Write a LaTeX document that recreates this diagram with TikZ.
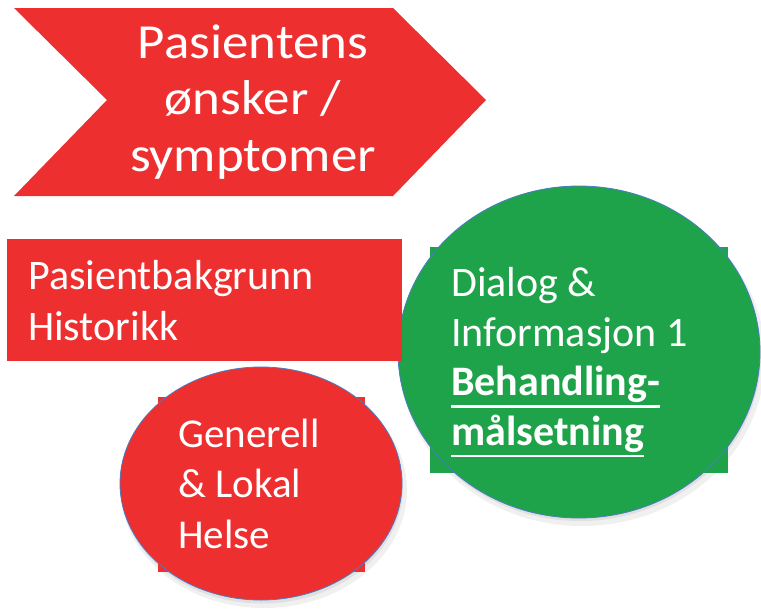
\documentclass[tikz,border=0pt]{standalone}
\usepackage{fontspec}
\setmainfont{Carlito}
\newfontfamily\chevfont[FakeStretch=1.08]{Carlito}
\newcommand\thickul[1]{\setbox0\hbox{#1}\rlap{\raisebox{-12pt}{\rule{\wd0}{2.5pt}}}\box0}
\definecolor{cred}{HTML}{EE2F2F}
\definecolor{cgreen}{HTML}{1FA34A}
\definecolor{cblue}{HTML}{4A7CC4}
\begin{document}
\begin{tikzpicture}[x=1pt,y=-1pt,
  txt/.style={text=white,inner sep=0pt,anchor=base west,align=left},
  shade1/.style={fill=black!12},
  shade2/.style={fill=black!6}]
\useasboundingbox (0,0) rectangle (761,611);
% chevron
\fill[cred] (14,8) -- (393,8) -- (486,100) -- (393,196) -- (14,196) -- (107,100) -- cycle;
\node[text=white,inner sep=0pt,anchor=base,align=center,font=\chevfont\fontsize{49}{56.5}\selectfont] (chev) at (253,171) {Pasientens\\ønsker /\\symptomer};
% green circle
\fill[shade2] (582,358) ellipse [x radius=183, y radius=168];
\fill[shade1] (580,355) ellipse [x radius=181, y radius=166];
\fill[cgreen] (430,247) rectangle (728,473);
\filldraw[fill=cgreen,draw=cblue,line width=0.8pt] (579,352) ellipse [x radius=181, y radius=166];
\node[txt,font=\fontsize{42}{49.5}\selectfont] (green) at (451,445) {Dialog \&\\Informasjon 1\\\textbf{\thickul{Behandling-}}\\\textbf{\thickul{målsetning}}};
% red circle
\fill[shade2] (264,490) ellipse [x radius=143, y radius=118];
\fill[shade1] (262,487) ellipse [x radius=141, y radius=116.5];
\fill[cred] (158,397) rectangle (365,572);
\filldraw[fill=cred,draw=cblue,line width=0.8pt] (261,483.5) ellipse [x radius=141, y radius=116.5];
\node[txt,font=\fontsize{41}{50.5}\selectfont] (red) at (178,548) {Generell\\\& Lokal\\Helse};
% rectangle
\fill[cred] (7,239) rectangle (402,361);
\node[txt,font=\fontsize{42}{51}\selectfont] (bg) at (28,340) {Pasientbakgrunn\\Historikk};
\end{tikzpicture}
\end{document}
